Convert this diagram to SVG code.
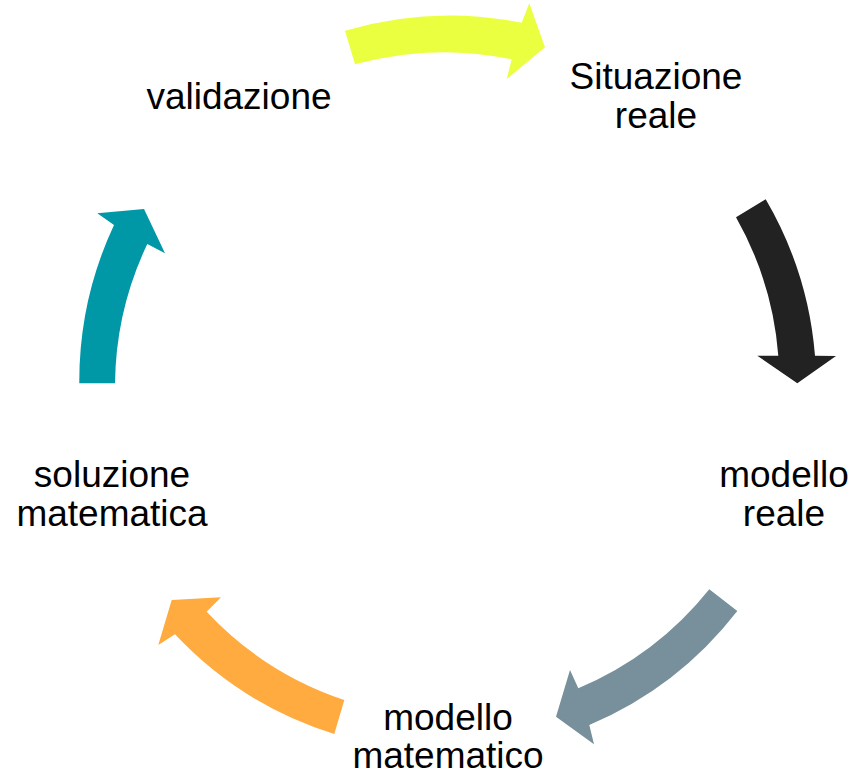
<svg xmlns="http://www.w3.org/2000/svg" width="866" height="775" viewBox="0 0 866 775">
  <style>
    .label { font-family: "Liberation Sans", Arial, sans-serif; font-size: 37px; fill: #000000; text-anchor: middle; }
    .arrow { stroke: none; }
  </style>
  <rect width="866" height="775" fill="#ffffff"/>

  <!-- curved connectors around a circle centred at (448,385) -->
  <g id="connectors">
    <path id="arrow-top" class="arrow" fill="#EAFF40"
      d="M345,30.7 A369,369 0 0 1 521.7,22.7 L529.3,3.3 L545,47.3 L506.7,79 L511.7,59.3 A333,333 0 0 0 355,64.3 Z"/>
    <path id="arrow-right" class="arrow" fill="#222222"
      d="M765.7,199.3 A369,369 0 0 1 815,355.7 L836,356 L797.3,383.3 L757.3,355.7 L778.3,355.7 A333,333 0 0 0 736,217.3 Z"/>
    <path id="arrow-bottom-right" class="arrow" fill="#78909C"
      d="M737.3,611 A369,369 0 0 1 589.3,725 L594,744.3 L556,716.7 L570,670 L578.3,688.3 A333,333 0 0 0 709.3,589.3 Z"/>
    <path id="arrow-bottom-left" class="arrow" fill="#FFAB40"
      d="M334.3,734 A369,369 0 0 1 175,634.3 L158.3,645 L171.7,600 L221,597.3 L206.7,611.7 A333,333 0 0 0 344.3,700 Z"/>
    <path id="arrow-left" class="arrow" fill="#0097A7"
      d="M79.3,383.3 A369,369 0 0 1 114,225 L97.3,213.3 L144,209 L165,253.3 L147.3,244 A333,333 0 0 0 115,383.3 Z"/>
  </g>

  <g id="node-situazione">
    <text class="label" x="656" y="89">Situazione</text>
    <text class="label" x="656" y="128">reale</text>
  </g>
  <g id="node-modello-reale">
    <text class="label" x="784" y="487">modello</text>
    <text class="label" x="784" y="526">reale</text>
  </g>
  <g id="node-modello-matematico">
    <text class="label" x="448" y="730">modello</text>
    <text class="label" x="448" y="768">matematico</text>
  </g>
  <g id="node-soluzione">
    <text class="label" x="112" y="487">soluzione</text>
    <text class="label" x="112" y="526">matematica</text>
  </g>
  <g id="node-validazione">
    <text class="label" x="239" y="109">validazione</text>
  </g>
</svg>
